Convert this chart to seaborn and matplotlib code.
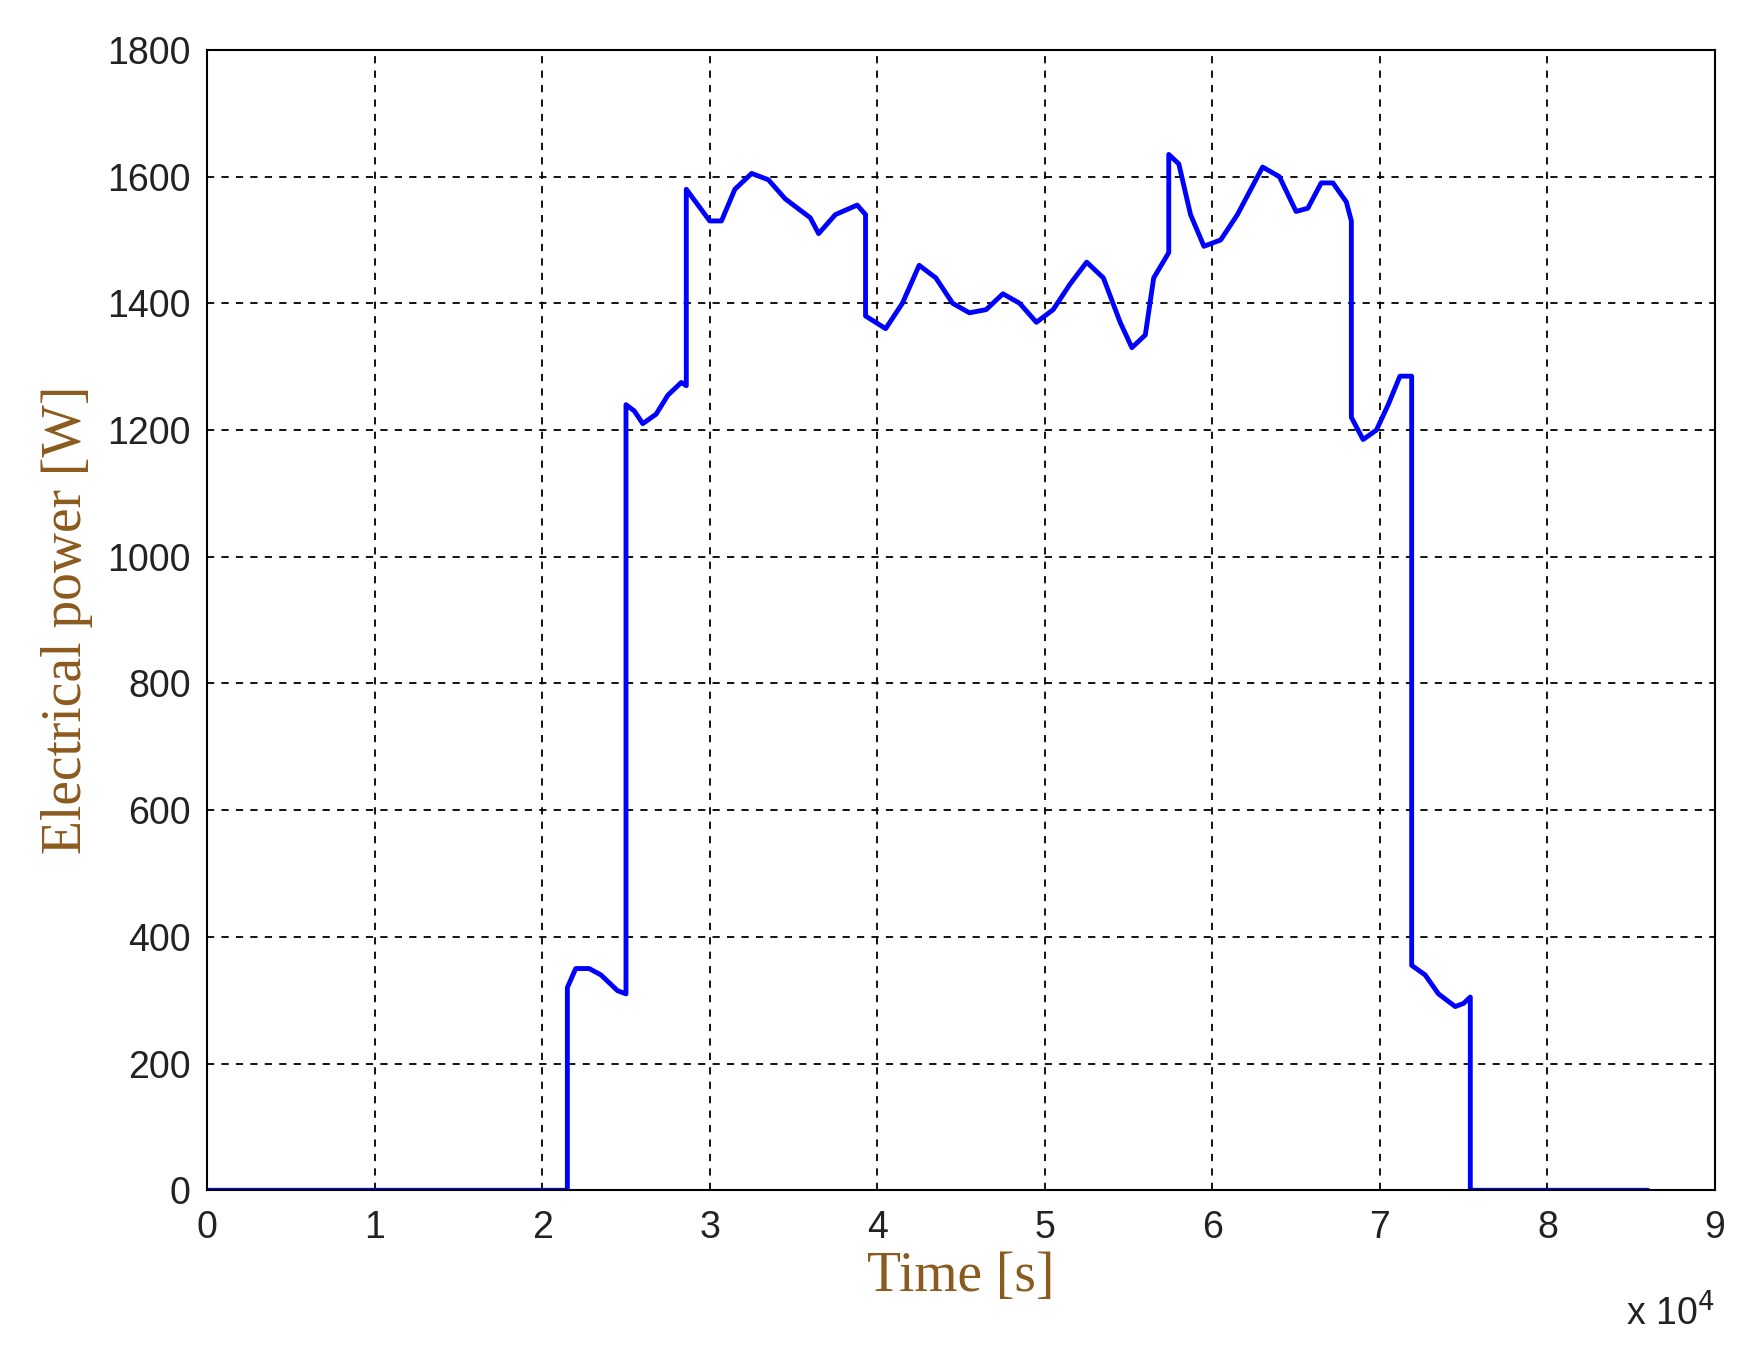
import seaborn as sns
import pandas as pd
import matplotlib.pyplot as plt

# time in units of 1e4 s, power in W
time_1e4 = [0, 2.15, 2.15, 2.2, 2.28, 2.35, 2.45, 2.5, 2.5, 2.55, 2.6, 2.68, 2.75, 2.83, 2.86,
            2.86, 2.93, 3.0, 3.07, 3.15, 3.25, 3.35, 3.45, 3.6, 3.65, 3.75, 3.88, 3.93,
            3.93, 4.05, 4.15, 4.25, 4.35, 4.45, 4.55, 4.65, 4.75, 4.85, 4.95, 5.05, 5.15,
            5.25, 5.35, 5.45, 5.52, 5.6, 5.65, 5.74, 5.74, 5.8, 5.87, 5.95, 6.05, 6.15,
            6.25, 6.3, 6.4, 6.5, 6.57, 6.65, 6.72, 6.8, 6.83, 6.83, 6.9, 6.98, 7.05,
            7.12, 7.19, 7.19, 7.27, 7.35, 7.45, 7.5, 7.54, 7.54, 8.6]
power_w = [0, 0, 320, 350, 350, 340, 315, 310, 1240, 1230, 1210, 1225, 1255, 1275, 1270,
           1580, 1555, 1530, 1530, 1580, 1605, 1595, 1565, 1535, 1510, 1540, 1555, 1540,
           1380, 1360, 1400, 1460, 1440, 1400, 1385, 1390, 1415, 1400, 1370, 1390, 1430,
           1465, 1440, 1370, 1330, 1350, 1440, 1480, 1635, 1620, 1540, 1490, 1500, 1540,
           1590, 1615, 1600, 1545, 1550, 1590, 1590, 1560, 1530, 1220, 1185, 1200, 1240,
           1285, 1285, 355, 340, 310, 290, 295, 305, 0, 0]

df = pd.DataFrame({"t": [v * 1e4 for v in time_1e4], "p": power_w})

sns.set_style("white")
fig = plt.figure(figsize=(17.41, 13.48), dpi=100)
ax = fig.add_axes([0.119, 0.117, 0.866, 0.846])
sns.lineplot(data=df, x="t", y="p", ax=ax, color="#0000ff", linewidth=3.5,
             sort=False, estimator=None)

ax.set_xlim(0, 9e4)
ax.set_ylim(0, 1800)
ax.set_xticks([i * 1e4 for i in range(10)])
ax.set_xticklabels([str(i) for i in range(10)])
ax.set_yticks(range(0, 1801, 200))
ax.tick_params(labelsize=27, direction="in", length=8, colors="black")
ax.tick_params(axis="x", pad=14)
ax.tick_params(axis="y", pad=12)
for lab in ax.get_xticklabels() + ax.get_yticklabels():
    lab.set_family("Liberation Sans")
    lab.set_color("#222222")
ax.grid(True, linestyle=(0, (4, 4)), color="black", linewidth=1.3)
for s in ax.spines.values():
    s.set_color("black")
    s.set_linewidth(1.5)

ax.set_xlabel("Time [s]", family="Liberation Serif", fontsize=40, color="#8B5A1E", labelpad=4)
ax.set_ylabel("Electrical power [W]", family="Liberation Serif", fontsize=40, color="#8B5A1E", labelpad=10)
ax.text(1.0, -0.09, r"x 10$^4$", transform=ax.transAxes, ha="right", va="top",
        fontsize=27, family="Liberation Sans", color="#222222")

fig.savefig("out.png", dpi=100)
